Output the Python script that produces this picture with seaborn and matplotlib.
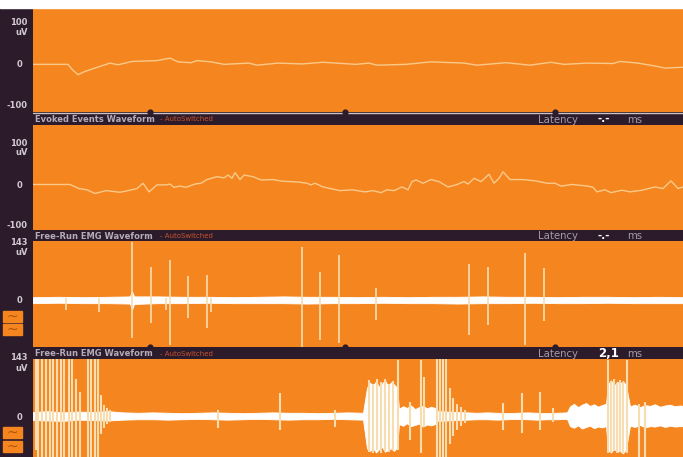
import matplotlib
matplotlib.use("Agg")
import matplotlib.pyplot as plt
import seaborn as sns
from matplotlib.patches import Rectangle

# couleurs de l'écran du moniteur
ORANGE = "#F5861F"
DARK = "#2C1B2B"
TRACE = "#F9C98A"
SPIKE = "#F7DDB0"
LABEL = "#D2CAD2"

# 1 -> Données (t en unités d'écran 0..650, amplitude en uV)

# Evoked Events Waveform (haut)
T1 = [0, 35, 39, 45, 52, 62, 77, 85, 99, 124, 137, 145, 158, 164, 178, 191, 216, 224,
      245, 269, 290, 323, 336, 344, 373, 398, 431, 444, 473, 497, 518, 531, 555, 580,
      587, 605, 622, 632, 650]
V1 = [-1, -1, -13, -26, -18, -10, 2, -2, 6, 8, 14, 5, 3, 8, 5, -1, 2, -3,
      2, 0, 4, -1, 2, -3, -1, 5, 2, -3, 3, -3, 4, -1, 2, 1,
      6, 2, -5, -10, -8]

# Evoked Events Waveform (2e)
T2 = [0, 37, 46, 54, 62, 73, 87, 95, 104, 110, 116, 124, 133, 137, 141, 147, 153, 162,
      168, 174, 184, 191, 195, 199, 202, 207, 211, 220, 228, 240, 249, 265, 274, 278,
      282, 290, 307, 319, 332, 340, 348, 354, 361, 369, 375, 379, 383, 390, 398, 406,
      415, 423, 431, 435, 441, 448, 456, 461, 466, 470, 477, 489, 502, 514, 522, 528,
      539, 555, 560, 564, 572, 578, 589, 597, 609, 622, 630, 638, 645, 650]
V2 = [-1, -1, -11, -14, -23, -16, -20, -16, -11, 2, -19, -2, -2, 0, -8, -5, -8, 0,
      2, 11, 18, 15, 22, 14, 28, 11, 22, 18, 10, 11, 7, 5, 2, -2,
      2, -7, -16, -14, -19, -16, -21, -14, -16, -7, -14, 6, 10, 2, 11, 6,
      -7, -2, 6, 0, 14, 6, 24, 2, 14, 30, 11, 11, 8, 2, 2, -5,
      -1, -5, -8, -19, -14, -21, -15, -19, -15, -7, -11, 8, -11, -7]

# Free-Run EMG (3e) : bande de bruit + pointes
BAND3_T = [0, 25, 50, 75, 97, 99, 101, 125, 150, 175, 200, 225, 250, 275, 300, 325,
           350, 375, 400, 425, 450, 475, 500, 525, 550, 575, 600, 625, 650]
BAND3_HI = [7, 8, 7, 8, 9, 22, 9, 9, 8, 8, 7, 8, 9, 8, 8, 7,
            8, 7, 8, 8, 9, 8, 8, 7, 8, 8, 7, 8, 7]
BAND3_LO = [-8, -7, -8, -8, -9, -25, -10, -8, -8, -7, -8, -8, -8, -9, -8, -8,
            -7, -8, -8, -9, -8, -8, -7, -8, -8, -7, -8, -8, -8]
SPK3_T = [33, 66, 99, 118, 133, 137, 155, 174, 178, 269, 287, 306, 343, 436, 455, 492, 511]
SPK3_TOP = [5, 5, 146, 84, 5, 100, 59, 63, 5, 134, 71, 113, 29, 90, 84, 119, 79]
SPK3_BOT = [-25, -29, -96, -59, -25, -113, -46, -71, -29, -121, -100, -109, -50, -88, -63, -113, -54]

# Free-Run EMG (4e) : bouffées d'activité
BAND4_T = [0, 15, 30, 45, 60, 75, 90, 105, 120, 135, 150, 165, 180, 195, 210, 225,
           240, 255, 270, 285, 300, 315, 330,
           334, 337, 340, 343, 346, 349, 352, 355, 358, 361, 364,
           366, 370, 374, 378, 382, 386, 390, 394, 398, 402,
           404, 414, 424, 434, 444, 454, 464, 474, 484, 494, 504, 514, 524, 534,
           537, 541, 545, 549, 553, 557, 561, 565, 569, 573,
           575, 578, 581, 584, 587, 590, 593,
           597, 602, 607, 612, 617, 622, 627, 632, 637, 642, 647, 650]
BAND4_HI = [10, 12, 9, 11, 10, 12, 9, 8, 9, 8, 7, 8, 9, 8, 7, 8,
            9, 8, 8, 7, 8, 9, 8,
            70, 82, 76, 85, 72, 80, 88, 74, 83, 78, 70,
            18, 24, 20, 26, 17, 22, 25, 19, 23, 20,
            12, 11, 10, 9, 8, 9, 8, 7, 8, 9, 8, 7, 8, 9,
            24, 30, 22, 28, 32, 25, 29, 23, 27, 30,
            78, 88, 74, 84, 80, 86, 76,
            24, 28, 22, 27, 25, 29, 23, 26, 28, 24, 26, 25]
BAND4_LO = [-10, -11, -12, -9, -10, -11, -9, -8, -8, -9, -8, -7, -8, -9, -8, -7,
            -8, -9, -8, -8, -7, -8, -9,
            -80, -86, -78, -90, -82, -76, -88, -84, -80, -86, -78,
            -20, -24, -18, -25, -22, -19, -26, -21, -23, -20,
            -12, -11, -10, -9, -8, -8, -9, -8, -7, -8, -9, -8, -8, -7,
            -25, -29, -23, -31, -27, -24, -30, -26, -28, -25,
            -84, -90, -80, -88, -86, -92, -82,
            -24, -27, -22, -28, -25, -26, -23, -27, -24, -26, -25, -25]
SPK4_T = [3, 5, 9, 13, 17, 20, 24, 28, 31, 36, 39, 43, 47, 55, 58, 62, 65, 68, 71, 74, 77,
          185, 247, 302,
          336, 340, 344, 348, 352, 356, 360, 365, 377, 388, 391,
          404, 407, 410, 413, 417, 420, 424, 428, 432,
          470, 489, 507, 520,
          575, 578, 581, 584, 587, 590, 594, 606, 612]
SPK4_TOP = [150, 150, 150, 150, 150, 150, 150, 150, 150, 150, 150, 90, 60, 150, 150, 150, 150, 52, 27, 20, 15,
            15, 57, 15,
            88, 80, 92, 84, 90, 78, 86, 138, 35, 138, 96,
            150, 150, 150, 150, 70, 45, 30, 22, 15,
            32, 57, 59, 20,
            138, 86, 90, 82, 88, 84, 138, 30, 35]
SPK4_BOT = [-84, -110, -110, -110, -110, -110, -110, -110, -110, -110, -110, -110, -110, -110, -110, -110, -110, -45, -30, -20, -15,
            -30, -35, -27,
            -88, -90, -84, -92, -86, -88, -84, -84, -59, -91, -27,
            -110, -110, -110, -110, -70, -50, -35, -25, -18,
            -35, -42, -35, -15,
            -91, -90, -86, -92, -88, -90, -91, -110, -100]

W, H = 683, 457
PANELS = [(8, 112), (125, 230), (241, 347), (359, 457)]
YLIMS = [(-116, 135), (-112, 144), (-118, 148), (-101, 140.5)]
TOPS = [("100", 100, "uV", 76, "-100"), ("100", 100, "uV", 76, "-100"),
        ("143", 143, "uV", 118, None), ("143", 143, "uV", 118, None)]
BARS = [(112, 125, "Evoked Events Waveform", "-.-"),
        (230, 241, "Free-Run EMG Waveform", "-.-"),
        (347, 359, "Free-Run EMG Waveform", "2,1")]

sns.set_style("dark")
plt.rcParams["font.family"] = ["DejaVu Sans"]

fig = plt.figure(figsize=(W / 100, H / 100), dpi=100, facecolor=DARK)
fig.patches.append(Rectangle((0, 1 - 8 / H), 1, 8 / H, transform=fig.transFigure,
                             color="white", zorder=0))


def px_axes(x0, y0, x1, y1):
    return fig.add_axes([x0 / W, 1 - y1 / H, (x1 - x0) / W, (y1 - y0) / H])


def fig_rect(x0, y0, x1, y1, color):
    fig.patches.append(Rectangle((x0 / W, 1 - y1 / H), (x1 - x0) / W, (y1 - y0) / H,
                                 transform=fig.transFigure, color=color, zorder=1))


axes = []
for (y0, y1), ylim, (top, top_v, unit, unit_v, bottom) in zip(PANELS, YLIMS, TOPS):
    ax = px_axes(33, y0, 683, y1)
    ax.set_facecolor(ORANGE)
    ax.set_xlim(0, 650)
    ax.set_ylim(*ylim)
    for s in ax.spines.values():
        s.set_visible(False)
    ax.set_xticks([])
    ax.set_yticks([0])
    ax.set_yticklabels(["0"])
    ax.tick_params(axis="y", length=6, width=0.8, color="#9A8E9A", pad=2,
                   labelsize=6, labelcolor=LABEL)
    for lab in ax.get_yticklabels():
        lab.set_fontweight("bold")
    tr = ax.get_yaxis_transform()
    ax.text(-0.008, top_v, top, transform=tr, ha="right", va="center", fontsize=6,
            fontweight="bold", color=LABEL, clip_on=False)
    ax.text(-0.008, unit_v, unit, transform=tr, ha="right", va="center", fontsize=6,
            fontweight="bold", color=LABEL, clip_on=False)
    if bottom:
        ax.text(-0.008, -100, bottom, transform=tr, ha="right", va="center", fontsize=6,
                fontweight="bold", color=LABEL, clip_on=False)
    axes.append(ax)

# 2 -> Tracés
sns.lineplot(x=T1, y=V1, ax=axes[0], color=TRACE, lw=1.0)
sns.lineplot(x=T2, y=V2, ax=axes[1], color=TRACE, lw=1.0)

axes[2].vlines(SPK3_T, SPK3_BOT, SPK3_TOP, color=SPIKE, lw=1.2)
axes[2].fill_between(BAND3_T, BAND3_LO, BAND3_HI, color="white", lw=0.6)

axes[3].vlines(SPK4_T, SPK4_BOT, SPK4_TOP, color=SPIKE, lw=1.5)
axes[3].fill_between(BAND4_T, BAND4_LO, BAND4_HI, color="white", lw=0.6)

# 3 -> Barres de titre
for i, (y0, y1, title, lat) in enumerate(BARS):
    bx = px_axes(33, y0, 683, y1)
    bx.set_facecolor(DARK)
    bx.set_xlim(33, 683)
    bx.set_ylim(0, 1)
    bx.set_xticks([])
    bx.set_yticks([])
    for s in bx.spines.values():
        s.set_visible(False)
    if i == 0:
        bx.axhline(0.95, color="#CFC3C0", lw=1.0)
    bx.text(35, 0.45, title, fontsize=6, fontweight="bold", color="#B4ACBA", va="center")
    bx.text(160, 0.45, "- AutoSwitched", fontsize=5, color="#C9532C", va="center")
    bx.text(538, 0.42, "Latency", fontsize=7.3, color="#A39BAA", va="center")
    bx.text(598, 0.45, lat, fontsize=8.5 if lat != "-.-" else 7.5, fontweight="bold",
            color="white", va="center")
    bx.text(627, 0.42, "ms", fontsize=7.3, color="#A39BAA", va="center")
    if i != 1:
        bx.scatter([150, 345, 555], [1.0, 1.0, 1.0], s=12, color=DARK, marker="o",
                   clip_on=False, zorder=5)

# 4 -> Boutons à gauche des panneaux EMG
for yy in [311, 324, 427, 441]:
    fig_rect(3, yy, 22, yy + 11, ORANGE)
    fig.text(12.5 / W, 1 - (yy + 5.5) / H, "~", ha="center", va="center",
             fontsize=10, color="#B0520E")

fig.savefig("out.png", dpi=100, facecolor=fig.get_facecolor())
